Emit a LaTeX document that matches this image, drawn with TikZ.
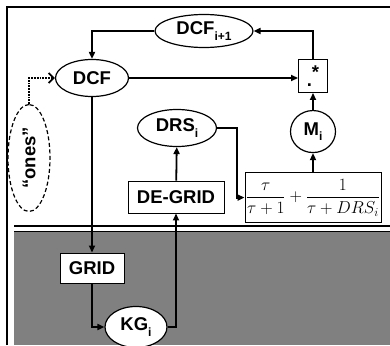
\documentclass[tikz,border=0pt]{standalone}
\usepackage{fontspec}
\setsansfont{Liberation Sans}
\usepackage{tikz}
\usetikzlibrary{positioning,shapes.geometric,arrows.meta,calc}
\definecolor{shadegray}{HTML}{808080}
\newcommand{\lowtext}[1]{\raisebox{-0.55ex}{\fontsize{12}{12}\selectfont #1}}

\begin{document}
\begin{tikzpicture}[
        x=1pt, y=-1pt,
        every node/.style={font=\fontsize{18.5}{20}\selectfont\sffamily\bfseries, align=center, inner sep=1pt},
        oval/.style={ellipse, draw, fill=white, line width=1.2pt, minimum width=73pt, minimum height=37pt},
        circ/.style={ellipse, draw, fill=white, line width=1.2pt, minimum width=45pt, minimum height=42pt},
        opbox/.style={draw, fill=white, line width=0.9pt, minimum width=29pt, minimum height=33pt},
        blockbox/.style={draw, fill=white, line width=0.9pt, minimum height=31pt},
        arr/.style={-{Triangle[length=7pt,width=6pt]}, line width=1.8pt},
        dotarr/.style={-{Straight Barb[length=5pt,width=10pt]}, line width=1.8pt, densely dotted}
      ]
        \useasboundingbox (0,0) rectangle (390,345);
        % frame and shaded part
        \draw[line width=1.3pt] (7,345) -- (7,7) -- (390,7);
        \fill[shadegray] (14,231) rectangle (390,345);
        \draw[line width=0.6pt] (14,231) -- (390,231);
        \draw[line width=2pt] (14,226) -- (390,226);
        % nodes
        \node[oval] (dcf) at (92,78) {DCF};
        \node[oval, minimum width=98pt, minimum height=33pt] (dcfnext) at (204,31) {DCF\lowtext{i+1}};
        \node[opbox] (mult) at (313,76) {\raisebox{-0.3ex}{.}\raisebox{0.5ex}{*}};
        \node[circ, below=17pt of mult] (mi) {M\lowtext{i}};
        \node[blockbox, below=19pt of mi, minimum width=117pt, minimum height=50pt,
              font=\fontsize{16.5}{18}\selectfont] (frac) {$\displaystyle\frac{\tau}{\tau+1}+\frac{1}{\tau+DRS_i}$};
        \node[oval, minimum width=79pt] (drs) at (177,128) {DRS\lowtext{i}};
        \node[blockbox, minimum width=96pt, minimum height=32pt] (degrid) at (176,197) {DE-GRID};
        \node[blockbox, minimum width=64pt, minimum height=30pt] (grid) at (92,268) {GRID};
        \node[oval, minimum width=62pt, minimum height=41pt] (kg) at (136,327) {KG\lowtext{i}};
        \node[ellipse, draw, dashed, line width=1.2pt, dash pattern=on 4pt off 2.5pt, rotate=90,
              minimum width=107pt, minimum height=42pt] (ones) at (29,158) {``ones''};
        % connectors
        \draw[arr] (mult.north) |- (dcfnext.east);
        \draw[arr] (dcfnext.west) -| (dcf.north);
        \draw[arr] (dcf.east) -- (dcf.east -| mult.west);
        \draw[arr] (mi) -- (mult);
        \draw[arr] (frac) -- (mi);
        \draw[arr] (drs.east) -- ++(20,0) |- (frac.west);
        \draw[arr] (degrid) -- (drs);
        \draw[arr] (dcf.south) -- (grid.north);
        \draw[arr] (grid.south) |- (kg.west);
        \draw[arr] (kg.east) -| (degrid.south);
        \draw[dotarr] (ones.east) |- (dcf.west);
      \end{tikzpicture}
\end{document}
